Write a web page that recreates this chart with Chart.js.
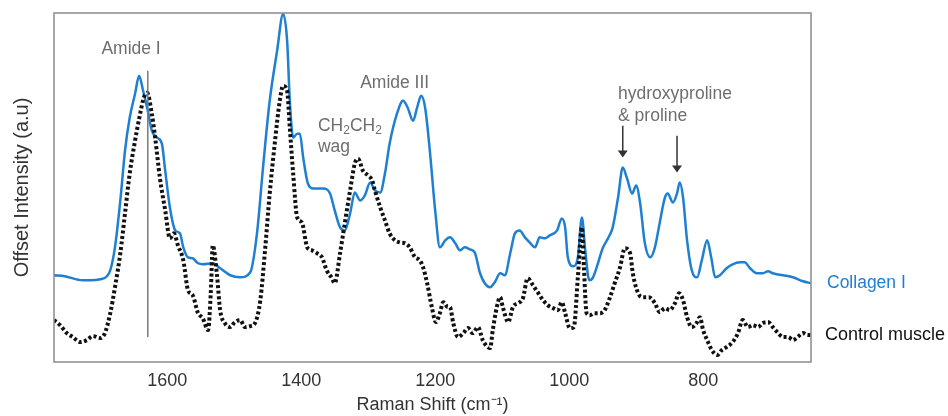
<!DOCTYPE html>
<html>
<head>
<meta charset="utf-8">
<script src="https://cdn.jsdelivr.net/npm/chart.js@4/dist/chart.umd.min.js"></script>
<style>
  html, body { margin: 0; padding: 0; background: #fff; }
</style>
</head>
<body>
<canvas id="ramanChart" width="948" height="416"></canvas>
<script>
// Raman shift (cm-1) and offset intensity
const collagenShift = [1769, 1753, 1726, 1715, 1700, 1690, 1685, 1678, 1670, 1663, 1656, 1648, 1642, 1636, 1629, 1623, 1615, 1608, 1603, 1596, 1588, 1581, 1576, 1569, 1562, 1554, 1547, 1532, 1521, 1506, 1491, 1476, 1466, 1457, 1447, 1436, 1427, 1421, 1417, 1412, 1406, 1402, 1397, 1390, 1382, 1367, 1357, 1350, 1342, 1335, 1327, 1320, 1312, 1305, 1297, 1290, 1282, 1275, 1268, 1257, 1248, 1241, 1233, 1227, 1221, 1215, 1208, 1200, 1193, 1185, 1178, 1170, 1163, 1156, 1148, 1141, 1133, 1126, 1118, 1111, 1103, 1096, 1088, 1081, 1074, 1066, 1059, 1051, 1044, 1036, 1029, 1018, 1011, 1006, 1002, 994, 987, 981, 976, 970, 965, 957, 950, 942, 935, 927, 920, 914, 906, 900, 894, 887, 879, 872, 865, 857, 853, 845, 839, 835, 830, 824, 817, 809, 802, 794, 788, 782, 775, 765, 756, 745, 738, 730, 720, 711, 703, 696, 681, 666, 651, 639];
const collagenIntensity = [87, 86, 82, 82, 83, 86, 92, 115, 162, 212, 245, 269, 287, 272, 252, 232, 225, 219, 192, 155, 132, 129, 115, 105, 104, 99, 98, 99, 94, 87, 85, 90, 129, 195, 262, 312, 349, 322, 262, 225, 229, 229, 205, 179, 174, 174, 169, 152, 135, 132, 149, 170, 162, 167, 180, 172, 170, 189, 219, 249, 262, 255, 242, 255, 267, 255, 212, 152, 115, 122, 125, 119, 112, 115, 113, 110, 89, 79, 75, 80, 89, 87, 109, 129, 132, 125, 120, 115, 125, 124, 127, 132, 144, 135, 105, 96, 105, 145, 112, 82, 84, 99, 114, 124, 135, 165, 195, 185, 169, 177, 159, 119, 105, 115, 139, 165, 169, 160, 169, 180, 165, 122, 92, 85, 102, 122, 105, 85, 87, 94, 98, 100, 100, 94, 89, 89, 91, 89, 87, 85, 81, 79];

const muscleShift = [1769, 1760, 1750, 1741, 1730, 1720, 1711, 1700, 1693, 1685, 1678, 1670, 1663, 1656, 1648, 1641, 1635, 1630, 1623, 1618, 1611, 1603, 1596, 1590, 1584, 1576, 1569, 1562, 1554, 1547, 1539, 1535, 1532, 1526, 1521, 1514, 1506, 1499, 1491, 1484, 1476, 1469, 1461, 1454, 1447, 1439, 1432, 1427, 1421, 1417, 1412, 1406, 1399, 1391, 1384, 1376, 1369, 1362, 1354, 1350, 1342, 1335, 1327, 1320, 1315, 1308, 1300, 1294, 1290, 1282, 1275, 1268, 1260, 1253, 1245, 1238, 1230, 1223, 1218, 1212, 1205, 1199, 1193, 1188, 1181, 1178, 1173, 1166, 1158, 1151, 1144, 1136, 1129, 1118, 1114, 1108, 1103, 1099, 1091, 1084, 1076, 1069, 1062, 1054, 1047, 1039, 1032, 1024, 1017, 1011, 1006, 999, 993, 987, 981, 978, 974, 969, 962, 954, 947, 939, 932, 924, 917, 909, 905, 897, 890, 881, 872, 865, 857, 850, 842, 836, 830, 824, 817, 809, 805, 800, 794, 787, 779, 772, 765, 756, 748, 741, 733, 726, 718, 711, 703, 696, 688, 681, 673, 666, 659, 651, 644, 639];
const muscleIntensity = [42, 37, 29, 25, 20, 22, 26, 24, 29, 49, 75, 109, 149, 189, 222, 247, 265, 270, 249, 225, 185, 152, 124, 129, 117, 102, 72, 67, 49, 44, 32, 69, 117, 89, 52, 39, 35, 40, 42, 35, 36, 39, 62, 112, 169, 222, 262, 277, 272, 235, 189, 145, 140, 115, 112, 109, 105, 92, 84, 79, 109, 139, 172, 199, 204, 192, 187, 182, 172, 155, 142, 129, 122, 120, 119, 115, 105, 102, 95, 79, 55, 40, 49, 60, 55, 55, 39, 25, 29, 34, 29, 35, 22, 14, 32, 55, 65, 55, 40, 55, 59, 64, 84, 77, 70, 62, 57, 54, 52, 60, 49, 34, 35, 85, 135, 95, 49, 47, 49, 49, 52, 65, 79, 95, 114, 109, 89, 69, 65, 65, 59, 50, 54, 52, 59, 69, 62, 45, 35, 40, 45, 32, 22, 12, 7, 12, 15, 20, 29, 42, 35, 37, 35, 39, 40, 35, 29, 25, 25, 22, 25, 29, 27, 27];

const xTicks = [1600, 1400, 1200, 1000, 800];
const seriesNames = ['Collagen I', 'Control muscle'];

const blue = '#1f7fd1';
const noteGray = '#6e6e6e';
const fontFamily = '"Liberation Sans", Arial, sans-serif';

function toPoints(xs, ys) {
  return xs.map((x, i) => ({ x: x, y: ys[i] }));
}

// frame, Amide I marker, peak notes and end-of-line series labels
const notesPlugin = {
  id: 'notes',
  afterDatasetsDraw(chart) {
    const { ctx, chartArea: a, scales: { x, y } } = chart;
    ctx.save();

    ctx.strokeStyle = '#8a8a8a';
    ctx.lineWidth = 1.5;
    ctx.strokeRect(a.left, a.top, a.right - a.left, a.bottom - a.top);

    // Amide I line
    ctx.strokeStyle = '#7a7a7a';
    ctx.beginPath();
    ctx.moveTo(x.getPixelForValue(1629), y.getPixelForValue(292));
    ctx.lineTo(x.getPixelForValue(1629), y.getPixelForValue(25));
    ctx.stroke();

    ctx.fillStyle = noteGray;
    ctx.textBaseline = 'middle';
    ctx.font = '17.5px ' + fontFamily;
    ctx.textAlign = 'center';
    ctx.fillText('Amide I', x.getPixelForValue(1654), y.getPixelForValue(314));
    ctx.textAlign = 'left';
    ctx.fillText('Amide III', x.getPixelForValue(1312), y.getPixelForValue(280));

    // CH2CH2 with subscripts
    let cx = x.getPixelForValue(1375);
    const cy = y.getPixelForValue(237);
    ['CH', '2', 'CH', '2'].forEach((s, i) => {
      ctx.font = (i % 2 ? '12px ' : '17.5px ') + fontFamily;
      ctx.fillText(s, cx, i % 2 ? cy + 5 : cy);
      cx += ctx.measureText(s).width;
    });
    ctx.font = '17.5px ' + fontFamily;
    ctx.fillText('wag', x.getPixelForValue(1375), y.getPixelForValue(215));

    ctx.fillText('hydroxyproline', x.getPixelForValue(927), y.getPixelForValue(269));
    ctx.fillText('& proline', x.getPixelForValue(927), y.getPixelForValue(247));

    // arrows
    ctx.strokeStyle = '#333';
    ctx.fillStyle = '#333';
    ctx.lineWidth = 1.5;
    [[920, 237, 205], [839, 227, 190]].forEach(([w, y0, y1]) => {
      const px = x.getPixelForValue(w);
      const top = y.getPixelForValue(y0);
      const tip = y.getPixelForValue(y1);
      ctx.beginPath();
      ctx.moveTo(px, top);
      ctx.lineTo(px, tip - 6);
      ctx.stroke();
      ctx.beginPath();
      ctx.moveTo(px - 5, tip - 7);
      ctx.lineTo(px + 5, tip - 7);
      ctx.lineTo(px, tip);
      ctx.closePath();
      ctx.fill();
    });

    // series labels at the line ends
    ctx.font = '17.5px ' + fontFamily;
    ctx.fillStyle = blue;
    ctx.fillText(seriesNames[0], a.right + 16, y.getPixelForValue(collagenIntensity[collagenIntensity.length - 1]));
    ctx.font = '18px ' + fontFamily;
    ctx.fillStyle = '#111';
    ctx.fillText(seriesNames[1], a.right + 14, y.getPixelForValue(muscleIntensity[muscleIntensity.length - 1]));

    ctx.restore();
  }
};

const ctx = document.getElementById('ramanChart').getContext('2d');

new Chart(ctx, {
  type: 'line',
  data: {
    datasets: [{
      label: seriesNames[0],
      data: toPoints(collagenShift, collagenIntensity),
      borderColor: blue,
      borderWidth: 2.5,
      pointRadius: 0,
      cubicInterpolationMode: 'monotone',
      order: 1
    }, {
      label: seriesNames[1],
      data: toPoints(muscleShift, muscleIntensity),
      borderColor: '#111',
      borderWidth: 4,
      borderDash: [3, 2.5],
      pointRadius: 0,
      cubicInterpolationMode: 'monotone',
      order: 0
    }]
  },
  options: {
    responsive: false,
    animation: false,
    layout: { padding: { left: 6, right: 137, top: 13, bottom: 0 } },
    plugins: {
      legend: { display: false },
      tooltip: { enabled: false }
    },
    scales: {
      x: {
        type: 'linear',
        reverse: true,
        min: 639,
        max: 1769,
        afterBuildTicks: function(axis) {
          axis.ticks = xTicks.map(v => ({ value: v }));
        },
        afterFit: function(axis) {
          axis.height = 54;
        },
        grid: { display: false, drawTicks: false },
        border: { display: false },
        ticks: {
          padding: 8,
          maxRotation: 0,
          color: '#333',
          font: { size: 18, family: fontFamily },
          callback: function(value) {
            return String(value);
          }
        },
        title: {
          display: true,
          text: 'Raman Shift (cm\u207B\u00B9)',
          color: '#333',
          padding: { top: 0, bottom: 0 },
          font: { size: 18, family: fontFamily }
        }
      },
      y: {
        min: 0,
        max: 350,
        grid: { display: false, drawTicks: false },
        border: { display: false },
        ticks: { display: false },
        title: {
          display: true,
          text: 'Offset Intensity (a.u)',
          color: '#333',
          padding: { top: 4, bottom: 20 },
          font: { size: 20, family: fontFamily }
        }
      }
    }
  },
  plugins: [notesPlugin]
});
</script>
</body>
</html>
